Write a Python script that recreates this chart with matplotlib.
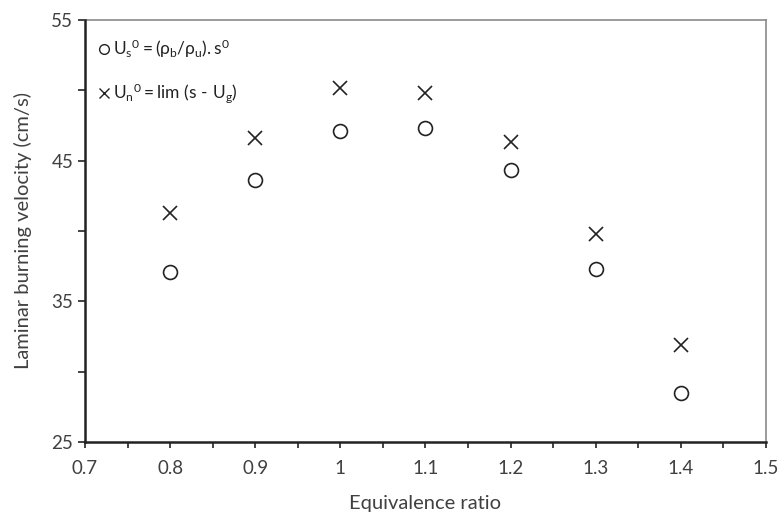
import matplotlib.pyplot as plt
from matplotlib.ticker import MultipleLocator, FixedLocator
from matplotlib.lines import Line2D

# Data
phi = [0.8, 0.9, 1.0, 1.1, 1.2, 1.3, 1.4]
us0 = [37.1, 43.6, 47.1, 47.3, 44.3, 37.3, 28.5]
un0 = [41.3, 46.6, 50.2, 49.8, 46.3, 39.8, 31.9]

x_ticks = [0.7, 0.8, 0.9, 1.0, 1.1, 1.2, 1.3, 1.4, 1.5]
x_labels = ['0.7', '0.8', '0.9', '1', '1.1', '1.2', '1.3', '1.4', '1.5']
y_ticks = [25, 35, 45, 55]
y_minor = [30, 40, 50]

plt.rcParams['font.family'] = ['Lato', 'DejaVu Sans']
plt.rcParams['mathtext.fontset'] = 'custom'
plt.rcParams['mathtext.rm'] = 'Lato'
plt.rcParams['mathtext.it'] = 'Lato'
plt.rcParams['mathtext.default'] = 'rm'

grey = '#404040'
ink = '#222222'

fig = plt.figure(figsize=(7.82, 5.19), dpi=100)
ax = fig.add_axes([0.1087, 0.1484, 0.8708, 0.8131])

ax.plot(phi, us0, 'o', mfc='none', mec=ink, ms=10, mew=1.2, linestyle='none')
ax.plot(phi, un0, 'x', color=ink, ms=10, mew=1.2, linestyle='none')

ax.set_xlim(0.7, 1.5)
ax.set_ylim(25, 55)
ax.set_xticks(x_ticks)
ax.set_xticklabels(x_labels)
ax.xaxis.set_minor_locator(MultipleLocator(0.05))
ax.yaxis.set_major_locator(FixedLocator(y_ticks))
ax.yaxis.set_minor_locator(FixedLocator(y_minor))

# thin grey frame on top/right, heavy dark axes on left/bottom
for s in ['top', 'right']:
    ax.spines[s].set_linewidth(1.2)
    ax.spines[s].set_color('#8a8a8a')
for s in ['left', 'bottom']:
    ax.spines[s].set_linewidth(1.8)
    ax.spines[s].set_color(ink)
    ax.spines[s].set_zorder(3)

ax.tick_params(axis='both', which='both', direction='out', color=ink,
               labelcolor=grey, labelsize=13.5, width=1.2, length=5)
ax.tick_params(axis='x', which='both', length=4, pad=9)

ax.set_xlabel('Equivalence ratio', fontsize=14.5, color=grey, labelpad=13)
ax.set_ylabel('Laminar burning velocity (cm/s)', fontsize=14.5, color=grey, labelpad=14)

handles = [
    Line2D([], [], marker='o', mfc='none', mec=ink, ms=7, mew=1.0, linestyle='none'),
    Line2D([], [], marker='x', color=ink, ms=7, mew=1.0, linestyle='none'),
]
labels = [
    r'$\mathregular{U_s{}^0 = (\rho_b/\rho_u).s^0}$',
    r'$\mathregular{U_n{}^0 = lim\ (s\ \text{-}\ U_g)}$',
]
leg = ax.legend(handles, labels, loc='upper left', frameon=False, fontsize=12.5,
                handlelength=0.6, handletextpad=0.2, labelspacing=1.2,
                borderaxespad=0.4, bbox_to_anchor=(0.0, 0.99))
for t in leg.get_texts():
    t.set_color(ink)

fig.savefig('out.png', dpi=100)
